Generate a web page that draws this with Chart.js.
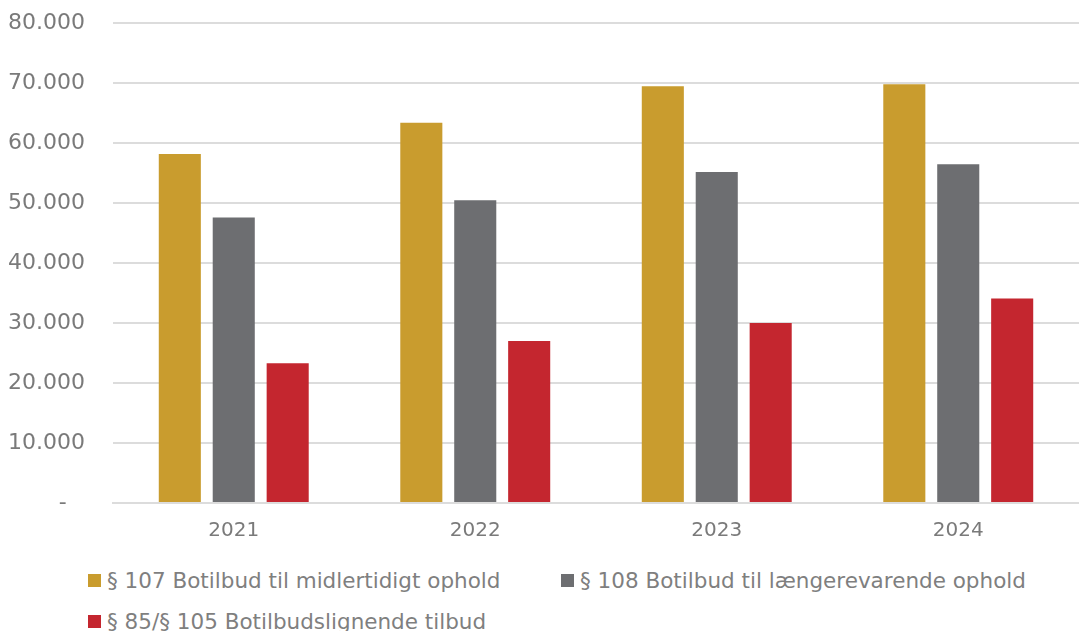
<!DOCTYPE html>
<html>
<head>
<meta charset="utf-8">
<script src="https://cdn.jsdelivr.net/npm/chart.js@4/dist/chart.umd.min.js"></script>
<style>
    body { margin: 0; background: #fff; }
    #wrap { position: relative; width: 1079px; height: 631px; overflow: hidden; }
    #chartBox { position: absolute; left: 0; top: -18px; width: 1079px; height: 577px; }
    .legend { position: absolute; font-family: "DejaVu Sans", Verdana, sans-serif; font-size: 21.5px; color: #7f7f7f; white-space: nowrap; }
    .legend span.box { display: inline-block; width: 13px; height: 13px; margin-right: 6px; vertical-align: 1px; }
</style>
</head>
<body>
<div id="wrap">
    <div id="chartBox"><canvas id="botilbudChart"></canvas></div>
    <div id="legend"></div>
</div>
<script>
    // Data
    const years = ['2021', '2022', '2023', '2024'];
    const seriesNames = [
        '§ 107 Botilbud til midlertidigt ophold',
        '§ 108 Botilbud til længerevarende ophold',
        '§ 85/§ 105 Botilbudslignende tilbud'
    ];
    const para107 = [58200, 63400, 69500, 69800];
    const para108 = [47600, 50500, 55200, 56500];
    const para85105 = [23300, 27000, 30000, 34100];
    const yTicks = [0, 10000, 20000, 30000, 40000, 50000, 60000, 70000, 80000];
    const colors = ['#c99c2e', '#6d6e71', '#c4262f'];

    const fontFamily = '"DejaVu Sans", Verdana, sans-serif';
    const textColor = '#7a7a7a';

    const ctx = document.getElementById('botilbudChart').getContext('2d');
    const botilbudChart = new Chart(ctx, {
        type: 'bar',
        data: {
            labels: years,
            datasets: [para107, para108, para85105].map((vals, i) => ({
                label: seriesNames[i],
                data: vals,
                backgroundColor: colors[i],
                borderWidth: 0,
                barPercentage: 0.78,
                categoryPercentage: 0.67
            }))
        },
        options: {
            responsive: true,
            maintainAspectRatio: false,
            animation: false,
            layout: { padding: { top: 12, right: 0, left: 0, bottom: 0 } },
            plugins: {
                legend: { display: false },
                tooltip: { enabled: false }
            },
            scales: {
                x: {
                    grid: { display: false, drawTicks: false },
                    border: { color: '#dcdcdc', width: 2 },
                    ticks: { color: textColor, font: { family: fontFamily, size: 20 }, padding: 16 }
                },
                y: {
                    min: 0,
                    max: 80000,
                    afterBuildTicks: (scale) => { scale.ticks = yTicks.map(v => ({ value: v })); },
                    afterFit: (scale) => { scale.width = 113; },
                    grid: { color: '#dcdcdc', lineWidth: 2, drawTicks: false },
                    border: { display: false },
                    ticks: {
                        color: textColor,
                        font: { family: fontFamily, size: 22 },
                        padding: 28,
                        callback: (v) => v === 0 ? '-  \u2009' : v.toLocaleString('da-DK')
                    }
                }
            }
        }
    });

    // HTML legend laid out like the original (two columns)
    const legendPos = [[88, 568], [561, 568], [88, 609]];
    const legendEl = document.getElementById('legend');
    seriesNames.forEach((name, i) => {
        const d = document.createElement('div');
        d.className = 'legend';
        d.style.left = legendPos[i][0] + 'px';
        d.style.top = legendPos[i][1] + 'px';
        d.innerHTML = '<span class="box" style="background:' + colors[i] + '"></span>' + name;
        legendEl.appendChild(d);
    });
</script>
</body>
</html>
